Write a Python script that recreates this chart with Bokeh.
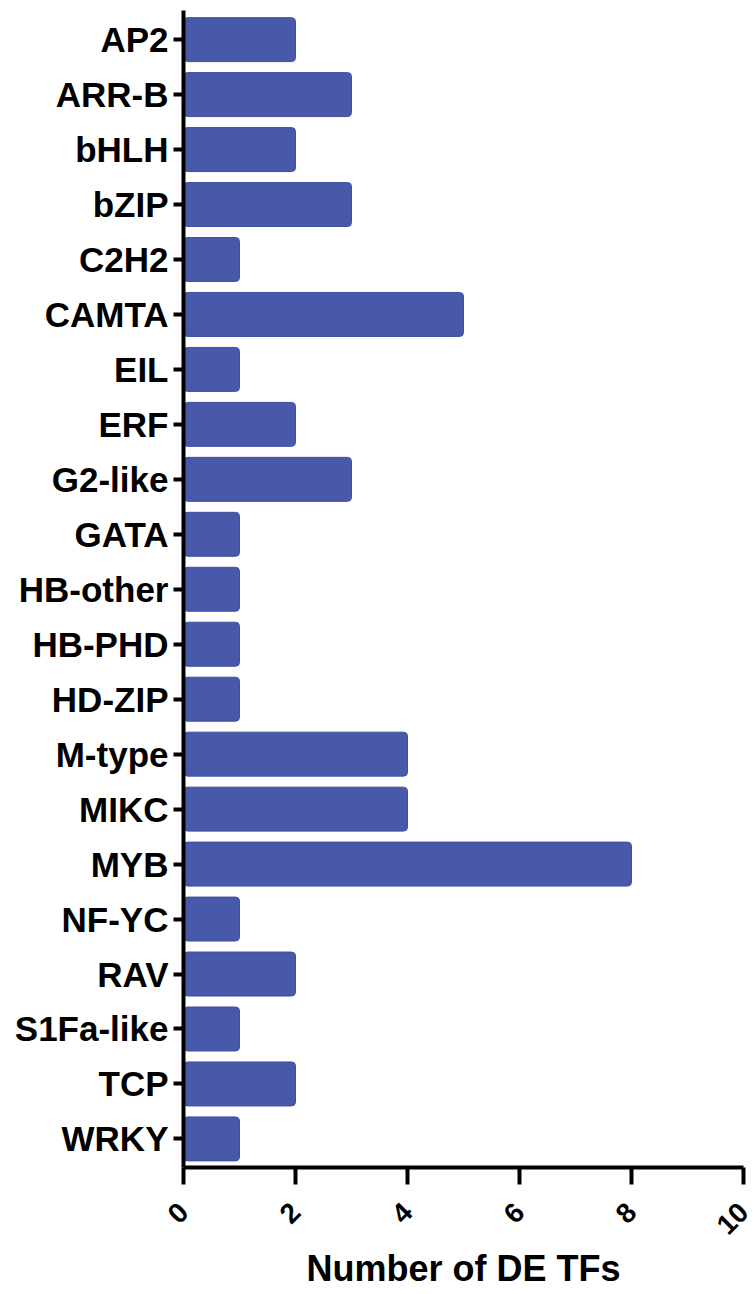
import math
from bokeh.plotting import figure
from bokeh.models import Range1d, FixedTicker, ColumnDataSource
from bokeh.embed import file_html
from bokeh.resources import INLINE

categories = ["AP2", "ARR-B", "bHLH", "bZIP", "C2H2", "CAMTA", "EIL", "ERF",
              "G2-like", "GATA", "HB-other", "HB-PHD", "HD-ZIP", "M-type",
              "MIKC", "MYB", "NF-YC", "RAV", "S1Fa-like", "TCP", "WRKY"]
counts = [2, 3, 2, 3, 1, 5, 1, 2, 3, 1, 1, 1, 1, 4, 4, 8, 1, 2, 1, 2, 1]
x_ticks = [0, 2, 4, 6, 8, 10]

n = len(categories)
ypos = [n - 1 - i for i in range(n)]
src = ColumnDataSource(dict(y=ypos, v=counts, c=categories))

p = figure(width=756, height=1294, output_backend="svg", toolbar_location=None,
           x_range=Range1d(0, 10), y_range=Range1d(-0.52, n - 1 + 0.53),
           min_border_left=183, min_border_right=13, min_border_top=10,
           min_border_bottom=127)
p.outline_line_color = None
p.grid.visible = False
p.background_fill_color = "white"

p.hbar(y="y", right="v", left=0, height=0.8, source=src,
       fill_color="#4759A8", line_color="#3E4F9E", line_width=1, border_radius=4)

font = "Liberation Sans"
for ax in (p.xaxis[0], p.yaxis[0]):
    ax.axis_line_width = 4
    ax.axis_line_color = "black"
    ax.major_tick_line_width = 4
    ax.major_tick_line_color = "black"
    ax.minor_tick_line_color = None
    ax.major_tick_in = 0
    ax.major_label_text_font = font
    ax.major_label_text_font_style = "bold"
    ax.major_label_text_color = "black"

p.yaxis.ticker = FixedTicker(ticks=ypos)
p.yaxis.major_label_overrides = {y: c for y, c in zip(ypos, categories)}
p.yaxis.major_tick_out = 10
p.yaxis.major_label_standoff = 5
p.yaxis.major_label_text_font_size = "35px"

p.xaxis.ticker = FixedTicker(ticks=x_ticks)
p.xaxis.major_tick_out = 17
p.xaxis.major_label_orientation = math.pi / 4
p.xaxis.major_label_text_font_size = "28px"
p.xaxis.major_label_standoff = 23
p.xaxis.axis_label = "Number of DE TFs"
p.xaxis.axis_label_text_font = font
p.xaxis.axis_label_text_font_style = "bold"
p.xaxis.axis_label_text_font_size = "36px"
p.xaxis.axis_label_text_color = "black"
p.xaxis.axis_label_standoff = 2

open("out.html", "w").write(file_html(p, INLINE))
